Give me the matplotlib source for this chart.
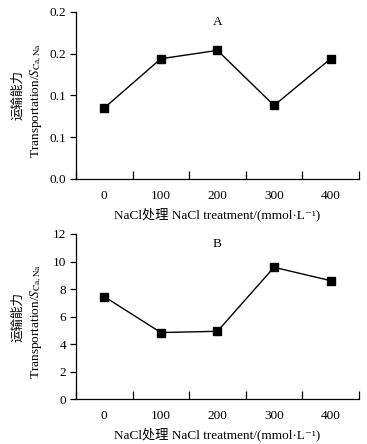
import matplotlib
matplotlib.use("Agg")
import matplotlib.pyplot as plt
from matplotlib.ticker import FixedLocator, FixedFormatter

plt.rcParams['font.family'] = ['Liberation Serif', 'DejaVu Serif', 'Noto Sans CJK SC']
plt.rcParams['mathtext.fontset'] = 'stix'

# data
treatments = ['0', '100', '200', '300', '400']
transport_a = [0.085, 0.144, 0.154, 0.088, 0.144]
transport_b = [7.45, 4.84, 4.93, 9.58, 8.61]

yticks_a = [0.0, 0.05, 0.10, 0.15, 0.20]
ylabels_a = ['0.0', '0.1', '0.1', '0.2', '0.2']
yticks_b = [0, 2, 4, 6, 8, 10, 12]
ylabels_b = ['0', '2', '4', '6', '8', '10', '12']

xlabel = 'NaCl处理 NaCl treatment/(mmol·L⁻¹)'
ylabel_cn = '运输能力'
ylabel_en_a = r'Transportation/$S_{\mathrm{Ca,Na}}$'
ylabel_en_b = r'Transportation/$S_{\mathrm{Ca,Na}}$'

fig = plt.figure(figsize=(3.67, 4.44), dpi=100)
ax_a = fig.add_axes([0.207, 0.597, 0.771, 0.376])
ax_b = fig.add_axes([0.207, 0.101, 0.771, 0.372])


def style_panel(ax, values, yticks, ylabels, letter, ylabel_en):
    x = list(range(len(treatments)))
    ax.plot(x, values, color='black', lw=1.0, marker='s', ms=6,
            mfc='black', mec='black')
    ax.set_xlim(-0.5, len(treatments) - 0.5)
    ax.set_ylim(yticks[0], yticks[-1])
    ax.spines['top'].set_visible(False)
    ax.spines['right'].set_visible(False)
    for s in ['left', 'bottom']:
        ax.spines[s].set_linewidth(0.9)

    ax.yaxis.set_major_locator(FixedLocator(yticks))
    ax.yaxis.set_major_formatter(FixedFormatter(ylabels))
    ax.tick_params(axis='y', direction='out', length=4, width=0.9,
                   labelsize=9.5, pad=3)

    # category labels at centres, tick marks between categories
    ax.xaxis.set_major_locator(FixedLocator(x))
    ax.xaxis.set_major_formatter(FixedFormatter(treatments))
    ax.xaxis.set_minor_locator(FixedLocator([i - 0.5 for i in range(len(treatments) + 1)]))
    ax.tick_params(axis='x', which='major', length=0, labelsize=9.5, pad=8)
    ax.tick_params(axis='x', which='minor', direction='in', length=5.5, width=0.9)

    ax.text(0.5, 0.94, letter, transform=ax.transAxes, ha='center', va='center',
            fontsize=9.5)
    ax.set_xlabel(xlabel, fontsize=9.5, labelpad=4)

    tr = ax.transAxes
    ax.text(-0.207, 0.5, ylabel_cn, transform=tr, rotation=90, ha='center',
            va='center', fontsize=9, family=['Noto Sans CJK SC'])
    ax.text(-0.141, 0.47, ylabel_en, transform=tr, rotation=90, ha='center',
            va='center', fontsize=9.5)


style_panel(ax_a, transport_a, yticks_a, ylabels_a, 'A', ylabel_en_a)
style_panel(ax_b, transport_b, yticks_b, ylabels_b, 'B', ylabel_en_b)

fig.savefig('out.png', dpi=100)
